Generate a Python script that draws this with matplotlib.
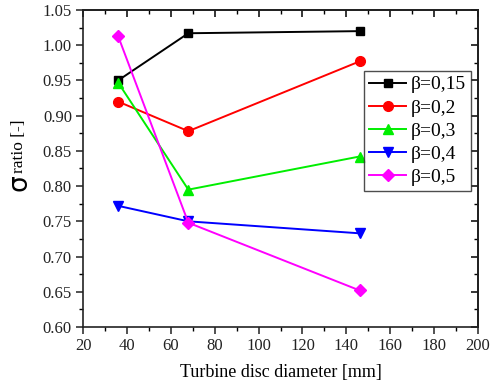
import matplotlib
matplotlib.use("Agg")
import matplotlib.pyplot as plt
from matplotlib.ticker import MultipleLocator

plt.rcParams['font.family'] = ['Liberation Serif', 'DejaVu Serif']
plt.rcParams['mathtext.fontset'] = 'stix'

diameters = [36, 68, 146]
labels = ['β=0,15', 'β=0,2', 'β=0,3', 'β=0,4', 'β=0,5']
beta_015 = [0.950, 1.017, 1.020]
beta_02 = [0.920, 0.878, 0.977]
beta_03 = [0.947, 0.795, 0.842]
beta_04 = [0.772, 0.750, 0.733]
beta_05 = [1.013, 0.748, 0.652]
series = [beta_015, beta_02, beta_03, beta_04, beta_05]
colors = ['#000000', '#ff0000', '#00ee00', '#0000ff', '#ff00ff']
markers = ['s', 'o', '^', 'v', 'D']
msizes = [6, 7, 7, 7, 6]

fig = plt.figure(figsize=(4.93, 3.83), dpi=100)
ax = fig.add_axes([83/493, 1 - 327/383, (478-83)/493, (327-10)/383])

for vals, lab, c, m, ms in zip(series, labels, colors, markers, msizes):
    ax.plot(diameters, vals, color=c, marker=m, markersize=ms, linewidth=1.4, label=lab)

ax.set_xlim(20, 200)
ax.set_ylim(0.60, 1.05)
ax.xaxis.set_major_locator(MultipleLocator(20))
ax.xaxis.set_minor_locator(MultipleLocator(10))
ax.yaxis.set_major_locator(MultipleLocator(0.05))
ax.yaxis.set_minor_locator(MultipleLocator(0.025))
ax.yaxis.set_major_formatter(matplotlib.ticker.FormatStrFormatter('%.2f'))
ax.tick_params(which='major', direction='out', length=5, width=1.1, labelsize=12, pad=3, colors='#222222')
ax.tick_params(which='minor', direction='out', length=3, width=1.0)
for s in ax.spines.values():
    s.set_linewidth(1.2)
    s.set_color('#222222')

secx = ax.secondary_xaxis('top')
secx.xaxis.set_major_locator(MultipleLocator(20))
secx.xaxis.set_minor_locator(MultipleLocator(10))
secx.tick_params(which='major', direction='in', length=5, width=1.1, labeltop=False)
secx.tick_params(which='minor', direction='in', length=3, width=1.0)
secy = ax.secondary_yaxis('right')
secy.yaxis.set_major_locator(MultipleLocator(0.05))
secy.yaxis.set_minor_locator(MultipleLocator(0.025))
secy.tick_params(which='major', direction='in', length=5, width=1.1, labelright=False)
secy.tick_params(which='minor', direction='in', length=3, width=1.0)
for sa in (secx, secy):
    for s in sa.spines.values():
        s.set_linewidth(1.2)

ax.set_xlabel('Turbine disc diameter [mm]', fontsize=13, labelpad=7)

fig.text(19/493, 1 - 173/383, 'ratio [-]', rotation=90, ha='center', va='bottom', fontsize=12.5)
fig.text(19/493, 1 - 174/383, 'σ', rotation=90, ha='center', va='top', fontsize=19,
         family=['DejaVu Sans'])

leg = ax.legend(loc='upper right', bbox_to_anchor=(471/493, 1 - 71/383), bbox_transform=fig.transFigure,
                fontsize=14, frameon=True, fancybox=False, edgecolor='#222222',
                handlelength=1.9, handletextpad=0.25, labelspacing=0.28, borderpad=0.25,
                borderaxespad=0)
leg.get_frame().set_linewidth(1.0)

fig.savefig('out.png', dpi=100)
